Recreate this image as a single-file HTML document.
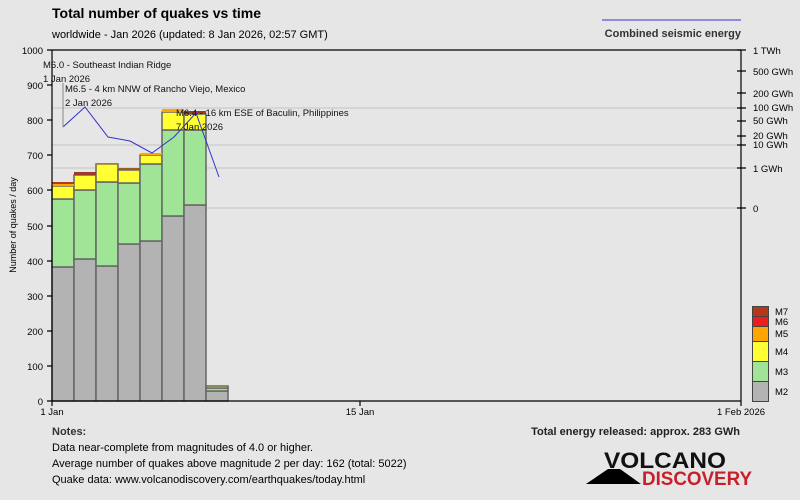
<!DOCTYPE html>
<html><head><style>
body{margin:0;background:#e6e6e6;}
svg{display:block;font-family:"Liberation Sans",sans-serif;}
</style></head><body>
<svg width="800" height="500" viewBox="0 0 800 500">
<rect width="800" height="500" fill="#e6e6e6"/>
<text x="52" y="18" font-size="14" font-weight="bold" fill="#000">Total number of quakes vs time</text>
<text x="52" y="38" font-size="11" fill="#000">worldwide - Jan 2026 (updated: 8 Jan 2026, 02:57 GMT)</text>
<line x1="602" y1="20" x2="741" y2="20" stroke="#3333cc" stroke-width="1"/>
<text x="741" y="37" font-size="11" font-weight="bold" fill="#333" text-anchor="end">Combined seismic energy</text>
<g stroke="#cfcfcf" stroke-width="1.5">
<line x1="52" y1="108" x2="741" y2="108"/><line x1="52" y1="145" x2="741" y2="145"/>
<line x1="52" y1="168" x2="741" y2="168"/><line x1="52" y1="208" x2="741" y2="208"/>
</g>
<g stroke="#666" stroke-width="1.5">
<!-- bars: x, gray, green, yellow, orange, red -->
<rect x="52" y="267" width="22" height="134" fill="#b3b3b3"/><rect x="52" y="199" width="22" height="68" fill="#a0e597"/><rect x="52" y="186" width="22" height="13" fill="#ffff33"/>
<rect x="74" y="259" width="22" height="142" fill="#b3b3b3"/><rect x="74" y="190" width="22" height="69" fill="#a0e597"/><rect x="74" y="175" width="22" height="15" fill="#ffff33"/>
<rect x="96" y="266" width="22" height="135" fill="#b3b3b3"/><rect x="96" y="182" width="22" height="84" fill="#a0e597"/><rect x="96" y="164" width="22" height="18" fill="#ffff33"/>
<rect x="118" y="244" width="22" height="157" fill="#b3b3b3"/><rect x="118" y="183" width="22" height="61" fill="#a0e597"/><rect x="118" y="170" width="22" height="13" fill="#ffff33"/>
<rect x="140" y="241" width="22" height="160" fill="#b3b3b3"/><rect x="140" y="164" width="22" height="77" fill="#a0e597"/><rect x="140" y="155" width="22" height="9" fill="#ffff33"/>
<rect x="162" y="216" width="22" height="185" fill="#b3b3b3"/><rect x="162" y="130" width="22" height="86" fill="#a0e597"/><rect x="162" y="112" width="22" height="18" fill="#ffff33"/>
<rect x="184" y="205" width="22" height="196" fill="#b3b3b3"/><rect x="184" y="130" width="22" height="75" fill="#a0e597"/><rect x="184" y="114" width="22" height="16" fill="#ffff33"/>
<rect x="206" y="391" width="22" height="10" fill="#b3b3b3"/><rect x="206" y="388" width="22" height="3" fill="#a0e597"/><rect x="206" y="386" width="22" height="2" fill="#ffff33"/>
</g>
<g stroke="none">
<rect x="52" y="184" width="22" height="2" fill="#ffa500"/><rect x="52" y="182" width="22" height="2" fill="#b03a1a"/>
<rect x="74" y="172" width="22" height="3" fill="#9a3a2a"/>
<rect x="96" y="163" width="22" height="1.5" fill="#b08020"/>
<rect x="118" y="168" width="22" height="2" fill="#9a5a2a"/>
<rect x="140" y="153" width="22" height="2" fill="#ffa500"/>
<rect x="162" y="109" width="22" height="3" fill="#ffa500"/>
<rect x="184" y="111" width="22" height="3" fill="#9a3a2a"/>
</g>
<polyline points="63,127 85,107 108,137 130,141 152,153 174,137 196,113 219,177" fill="none" stroke="#3333cc" stroke-width="1"/>
<line x1="63" y1="83" x2="63" y2="127" stroke="#888" stroke-width="1"/>
<g font-size="9.5" fill="#111">
<text x="43" y="68">M6.0 - Southeast Indian Ridge</text>
<text x="43" y="82">1 Jan 2026</text>
<text x="65" y="92">M6.5 - 4 km NNW of Rancho Viejo, Mexico</text>
<text x="65" y="106">2 Jan 2026</text>
<text x="176" y="116">M6.4 - 16 km ESE of Baculin, Philippines</text>
<text x="176" y="130">7 Jan 2026</text>
</g>
<g stroke="#000" stroke-width="1.2" fill="none">
<line x1="52" y1="50" x2="741" y2="50"/>
<line x1="52" y1="50" x2="52" y2="401"/>
<line x1="741" y1="50" x2="741" y2="401"/>
<line x1="52" y1="401" x2="741" y2="401"/>
<path d="M47 50H52M47 85H52M47 120H52M47 155H52M47 190H52M47 226H52M47 261H52M47 296H52M47 331H52M47 366H52M47 401H52"/>
<path d="M52 401V406M360 401V406M741 401V406"/>
<path d="M737 50H746M737 71H746M737 93H746M737 108H746M737 121H746M737 136H746M737 145H746M737 168H746M737 208H746"/>
</g>
<g font-size="9.5" fill="#000" text-anchor="end">
<text x="43" y="54">1000</text><text x="43" y="89">900</text><text x="43" y="124">800</text><text x="43" y="159">700</text>
<text x="43" y="194">600</text><text x="43" y="230">500</text><text x="43" y="265">400</text><text x="43" y="300">300</text>
<text x="43" y="335">200</text><text x="43" y="370">100</text><text x="43" y="405">0</text>
</g>
<text x="16" y="225" font-size="9" text-anchor="middle" transform="rotate(-90 16 225)">Number of quakes / day</text>
<g font-size="9.5" fill="#000">
<text x="753" y="54">1 TWh</text><text x="753" y="75">500 GWh</text><text x="753" y="97">200 GWh</text>
<text x="753" y="111">100 GWh</text><text x="753" y="124">50 GWh</text><text x="753" y="139">20 GWh</text>
<text x="753" y="148">10 GWh</text><text x="753" y="172">1 GWh</text><text x="753" y="212">0</text>
</g>
<g font-size="9.5" text-anchor="middle">
<text x="52" y="415">1 Jan</text><text x="360" y="415">15 Jan</text><text x="741" y="415">1 Feb 2026</text>
</g>
<g stroke="#444" stroke-width="1">
<rect x="752.5" y="306.5" width="16" height="10" fill="#b5381a"/>
<rect x="752.5" y="316.5" width="16" height="10" fill="#ee1c1c"/>
<rect x="752.5" y="326.5" width="16" height="15" fill="#ffa500"/>
<rect x="752.5" y="341.5" width="16" height="20" fill="#ffff33"/>
<rect x="752.5" y="361.5" width="16" height="20" fill="#a0e597"/>
<rect x="752.5" y="381.5" width="16" height="20" fill="#b3b3b3"/>
</g>
<g font-size="9.5" fill="#000">
<text x="775" y="315">M7</text><text x="775" y="325">M6</text><text x="775" y="337">M5</text>
<text x="775" y="355">M4</text><text x="775" y="375">M3</text><text x="775" y="395">M2</text>
</g>
<text x="52" y="435" font-size="11" font-weight="bold" fill="#333">Notes:</text>
<g font-size="11" fill="#000">
<text x="52" y="451">Data near-complete from magnitudes of 4.0 or higher.</text>
<text x="52" y="467">Average number of quakes above magnitude 2 per day: 162 (total: 5022)</text>
<text x="52" y="483">Quake data: www.volcanodiscovery.com/earthquakes/today.html</text>
</g>
<text x="740" y="435" font-size="11" font-weight="bold" fill="#222" text-anchor="end">Total energy released: approx. 283 GWh</text>
<polygon points="586,484 608,469 620,469 641,484" fill="#000"/>
<text x="604" y="468" font-size="22" font-weight="bold" fill="#111" textLength="122" lengthAdjust="spacingAndGlyphs">VOLCANO</text>
<text x="642" y="485" font-size="19" font-weight="bold" fill="#c8202a" textLength="110" lengthAdjust="spacingAndGlyphs">DISCOVERY</text>
</svg>
</body></html>
